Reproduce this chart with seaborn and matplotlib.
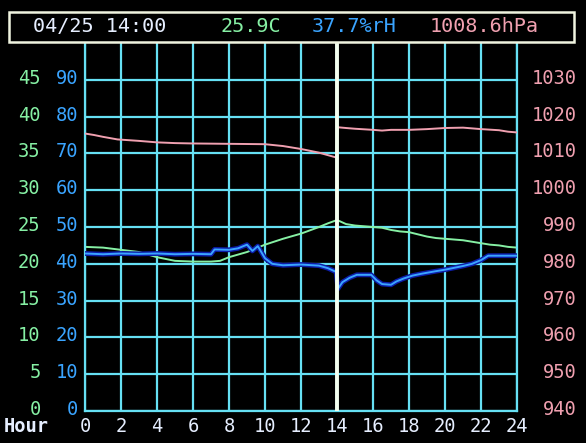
import matplotlib
matplotlib.use('Agg')
import matplotlib.pyplot as plt
import matplotlib.transforms as mtransforms
import seaborn as sns
import pandas as pd
from matplotlib.patches import Rectangle

temp_hours = [0, 1, 2, 3, 4, 5, 6, 7, 7.5, 8, 9, 10, 11, 12, 13, 13.5, 13.95,
              14.05, 14.5, 15, 15.5, 16, 16.5, 17, 17.5, 18, 18.5, 19, 19.5,
              20, 20.5, 21, 21.5, 22, 22.5, 23, 23.5, 24]
temp_vals = [22.3, 22.2, 21.9, 21.6, 20.9, 20.4, 20.3, 20.3, 20.4, 20.9, 21.6,
             22.6, 23.4, 24.1, 25.0, 25.5, 25.9,
             25.9, 25.4, 25.2, 25.1, 25.0, 24.9, 24.6, 24.4, 24.3, 24.0, 23.7,
             23.5, 23.4, 23.3, 23.2, 23.0, 22.8, 22.6, 22.5, 22.3, 22.2]

hum_hours = [0, 1, 2, 3, 4, 5, 6, 7, 7.2, 8, 8.5, 9, 9.3, 9.6, 10, 10.4, 11,
             12, 13, 13.5, 13.95,
             14.05, 14.3, 14.7, 15.1, 15.9, 16.2, 16.5, 17, 17.3, 17.7, 18.2,
             18.7, 19.5, 20, 21, 21.5, 22, 22.4, 23, 24]
hum_vals = [42.8, 42.6, 42.8, 42.7, 42.8, 42.6, 42.7, 42.6, 43.9, 43.8, 44.2,
            45.2, 43.5, 44.8, 41.5, 40.0, 39.6, 39.8, 39.5, 38.8, 37.8,
            33.2, 35.0, 36.2, 37.0, 37.0, 35.5, 34.5, 34.3, 35.2, 36.0, 36.8,
            37.3, 38.0, 38.4, 39.4, 40.0, 41.0, 42.2, 42.2, 42.2]

pres_hours = [0, 0.5, 1, 1.8, 3, 4, 5, 6, 8, 10, 11, 12, 13, 13.95,
              14.05, 14.5, 15, 16, 16.5, 17, 18, 19, 20, 21, 21.5, 22, 23,
              23.5, 24]
pres_vals = [1015.4, 1015.0, 1014.5, 1013.8, 1013.4, 1013.0, 1012.8, 1012.7,
             1012.6, 1012.5, 1012.0, 1011.2, 1010.2, 1008.9,
             1017.1, 1016.9, 1016.7, 1016.4, 1016.2, 1016.4, 1016.4, 1016.6,
             1016.9, 1017.0, 1016.8, 1016.6, 1016.3, 1015.9, 1015.7]

hour_ticks = list(range(0, 25, 2))
temp_ticks = list(range(0, 50, 5))
hum_ticks = list(range(0, 100, 10))
pres_ticks = list(range(940, 1040, 10))

header_parts = [('04/25 14:00', 33), ('25.9C', 220), ('37.7%rH', 312), ('1008.6hPa', 430)]

# ── colours ───────────────────────────────────────────────────
BG = 'black'
GRID = '#66e0f4'
GREEN = '#86f0a4'
BLUE = '#3aa4ff'
DARKBLUE = '#0c1ca8'
PINK = '#f0a0b0'
WHITE = '#e6eeff'

sns.set_theme(style='dark', rc={'axes.facecolor': BG, 'figure.facecolor': BG})
plt.rcParams['font.family'] = ['DejaVu Sans Mono', 'DejaVu Sans']

W, H = 586, 443
fig = plt.figure(figsize=(W / 100, H / 100), dpi=100)
ax = fig.add_axes([85 / W, 1 - 411 / H, 432 / W, 368 / H])
ax.set_facecolor(BG)

# labels on the display sit a few pixels above their grid line
lift = mtransforms.ScaledTranslation(0, 3.5 / 100, fig.dpi_scale_trans)

# temperature axis (main)
ax.set_xlim(0, 24)
ax.set_ylim(0, 50)
ax.set_xticks(hour_ticks)
ax.set_yticks(temp_ticks)
ax.grid(True, color=GRID, lw=1.6)
ax.tick_params(axis='y', length=0, pad=32, labelcolor=GREEN, labelsize=13.5)
ax.tick_params(axis='x', length=0, pad=4, labelcolor=WHITE, labelsize=13.5)
for side in ['left', 'bottom', 'right']:
    ax.spines[side].set_color(GRID)
    ax.spines[side].set_linewidth(1.6)
ax.spines['top'].set_visible(False)

# humidity axis (left, inner column)
axh = ax.twinx()
axh.set_ylim(0, 100)
axh.yaxis.set_ticks_position('left')
axh.set_yticks(hum_ticks)
axh.tick_params(axis='y', length=0, pad=5, labelcolor=BLUE, labelsize=13.5)
for s in axh.spines.values():
    s.set_visible(False)

# pressure axis (right)
axp = ax.twinx()
axp.set_ylim(940, 1040)
axp.set_yticks(pres_ticks, [str(p) for p in pres_ticks], ha='right')
axp.tick_params(axis='y', length=0, pad=43, labelcolor=PINK, labelsize=13.5)
for s in axp.spines.values():
    s.set_visible(False)

for a in (ax, axh, axp):
    for lab in a.get_yticklabels():
        lab.set_transform(lab.get_transform() + lift)

# ── series ────────────────────────────────────────────────────
df_t = pd.DataFrame({'hour': temp_hours, 'val': temp_vals})
df_h = pd.DataFrame({'hour': hum_hours, 'val': hum_vals})
df_p = pd.DataFrame({'hour': pres_hours, 'val': pres_vals})

sns.lineplot(data=df_h, x='hour', y='val', ax=axh, color=DARKBLUE, lw=3.5,
             estimator=None, sort=False)
sns.lineplot(data=df_h, x='hour', y='val', ax=axh, color=BLUE, lw=1.4,
             estimator=None, sort=False)
sns.lineplot(data=df_t, x='hour', y='val', ax=ax, color=GREEN, lw=1.4,
             estimator=None, sort=False)
sns.lineplot(data=df_p, x='hour', y='val', ax=axp, color=PINK, lw=1.4,
             estimator=None, sort=False)

for a in (ax, axh, axp):
    a.set_xlabel('')
    a.set_ylabel('')
axh.set_xlim(0, 24)

# current time marker
axp.axvline(14, color='#f4fff0', lw=2.8, zorder=10)

# ── header & axis caption ─────────────────────────────────────
fig.patches.append(Rectangle((9 / W, 1 - 42 / H), 565 / W, 30 / H,
                             transform=fig.transFigure, facecolor=BG,
                             edgecolor='#f0f4e0', lw=1.8))
header_colors = [WHITE, GREEN, BLUE, PINK]
for (txt, xpx), col in zip(header_parts, header_colors):
    fig.text(xpx / W, 1 - 27 / H, txt, color=col, fontsize=14.5, va='center')

fig.text(4 / W, 1 - 427 / H, 'Hour', color=WHITE, fontsize=13.5, va='center',
         fontweight='bold')

fig.savefig('out.png', dpi=100, facecolor=BG)
